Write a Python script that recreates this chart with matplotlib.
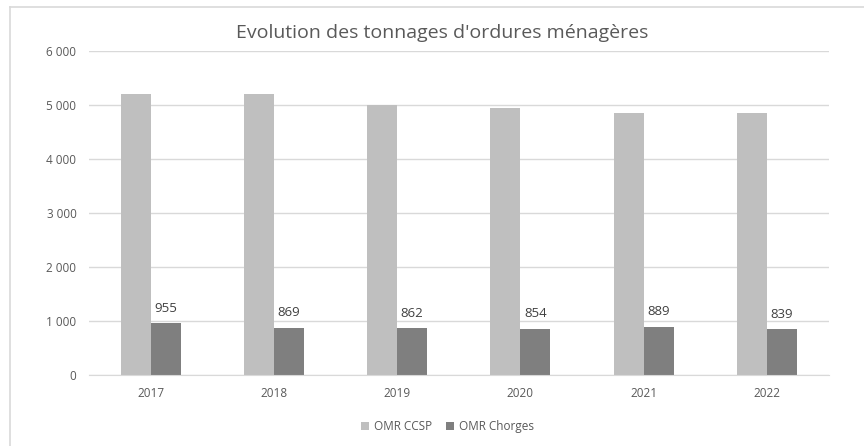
import matplotlib.pyplot as plt
import numpy as np
from matplotlib.lines import Line2D

# data
years = ["2017", "2018", "2019", "2020", "2021", "2022"]
omr_ccsp = [5204, 5190, 4994, 4945, 4838, 4838]
omr_chorges = [955, 869, 862, 854, 889, 839]

plt.rcParams['font.family'] = ['Open Sans', 'DejaVu Sans']

fig = plt.figure(figsize=(8.64, 4.46), dpi=100)
ax = fig.add_axes([0.103, 0.160, 0.856, 0.7265])

x = np.arange(len(years))
w = 0.243
ax.bar(x - w / 2, omr_ccsp, w, color="#bfbfbf", label="OMR CCSP", zorder=2)
bars = ax.bar(x + w / 2, omr_chorges, w, color="#7f7f7f", label="OMR Chorges", zorder=2)

for b, v in zip(bars, omr_chorges):
    ax.annotate(str(v), (b.get_x() + b.get_width() / 2, v), xytext=(0, 6),
                textcoords="offset points", ha="center", va="bottom",
                fontsize=9.5, color="#404040")

ax.set_xlim(-0.5, len(years) - 0.5)
ax.set_ylim(0, 6000)
ax.set_yticks(range(0, 6001, 1000))
ax.set_yticklabels([f"{v:,}".replace(",", " ") for v in range(0, 6001, 1000)])
ax.set_xticks(x)
ax.set_xticklabels(years)
ax.tick_params(axis="both", length=0, labelsize=8.5, colors="#595959")
ax.tick_params(axis="y", pad=9)
ax.tick_params(axis="x", pad=9)
ax.grid(axis="y", color="#d9d9d9", linewidth=1, zorder=0)
for s in ["top", "right", "left"]:
    ax.spines[s].set_visible(False)
ax.spines["bottom"].set_color("#d9d9d9")

fig.text(0.512, 0.926, "Evolution des tonnages d'ordures ménagères", ha="center", va="center",
         fontsize=14, color="#595959")

fig.legend(loc="center", bbox_to_anchor=(0.518, 0.043), ncol=2, frameon=False,
           fontsize=8.5, handlelength=0.7, handleheight=0.7, columnspacing=1.2,
           handletextpad=0.4, labelcolor="#595959")

# chart frame: only the top and left edges are visible in the crop
fig.lines.append(Line2D([0.011, 1.0], [0.985, 0.985], transform=fig.transFigure,
                        color="#d9d9d9", linewidth=1.2))
fig.lines.append(Line2D([0.011, 0.011], [0.0, 0.985], transform=fig.transFigure,
                        color="#d9d9d9", linewidth=1.2))

fig.savefig("out.png", dpi=100, facecolor="white")
